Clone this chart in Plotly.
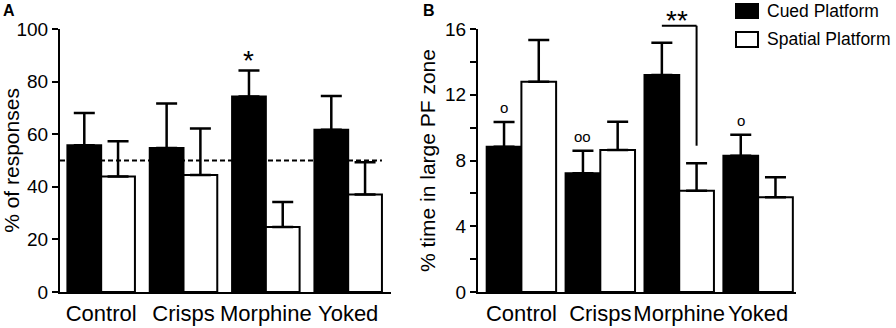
import plotly.graph_objects as go

# ---------------- data ----------------
CATEGORIES = ["Control", "Crisps", "Morphine", "Yoked"]

# Panel A: % of responses
A_CUED = [55.8, 54.8, 74.3, 61.7]
A_CUED_SEM = [12.3, 16.9, 9.9, 12.8]
A_SPATIAL = [43.9, 44.5, 24.7, 37.1]
A_SPATIAL_SEM = [13.4, 17.7, 9.5, 12.2]
CHANCE = 50

# Panel B: % time in large PF zone
B_CUED = [8.84, 7.22, 13.2, 8.29]
B_CUED_SEM = [1.5, 1.38, 1.97, 1.28]
B_SPATIAL = [12.79, 8.64, 6.16, 5.76]
B_SPATIAL_SEM = [2.54, 1.72, 1.67, 1.22]

A_TICKS = [0, 20, 40, 60, 80, 100]
B_TICKS = [0, 4, 8, 12, 16]

# significance marks
A_STAR_GROUP = 2
B_CIRCLES = ["o", "oo", "", "o"]
B_BRACKET_GROUP = 2
B_BRACKET_TOP = 16.2
B_BRACKET_BOTTOM = 8.9

# ---------------- style ----------------
FONT = "Liberation Sans, Arial, sans-serif"
W, H = 896, 328
WA = 0.41   # bar width panel A (category units)
WB = 0.44   # bar width panel B
XA_RANGE = [-0.5, 3.52]
XB_RANGE = [-0.55, 3.48]
YA_MAX = 100
YB_MAX = 16
Y_DOMAIN = [36 / H, 299 / H]
XA_DOMAIN = [60 / W, 391 / W]
XB_DOMAIN = [478 / W, 796 / W]

idx = list(range(len(CATEGORIES)))


def bars(vals, sems, width, offset, fill, xa, ya):
    return go.Bar(
        x=idx, y=vals, width=width, offset=offset,
        xaxis=xa, yaxis=ya, showlegend=False, hoverinfo="skip",
        marker=dict(color=fill, line=dict(color="black", width=2)),
        error_y=dict(type="data", array=sems, arrayminus=[0] * len(sems),
                     symmetric=False, color="black", thickness=2.5, width=10.5),
    )


fig = go.Figure()
fig.add_trace(bars(A_CUED, A_CUED_SEM, WA, -WA, "black", "x", "y"))
fig.add_trace(bars(A_SPATIAL, A_SPATIAL_SEM, WA, 0, "white", "x", "y"))
fig.add_trace(bars(B_CUED, B_CUED_SEM, WB, -WB, "black", "x2", "y2"))
fig.add_trace(bars(B_SPATIAL, B_SPATIAL_SEM, WB, 0, "white", "x2", "y2"))

xcommon = dict(
    tickmode="array", tickvals=idx, ticktext=CATEGORIES, tickangle=0,
    showline=True, linecolor="black", linewidth=2, mirror=False,
    ticks="outside", ticklen=1, tickcolor="rgba(0,0,0,0)",
    tickfont=dict(family=FONT, size=22, color="black"),
    showgrid=False, zeroline=False, fixedrange=True,
)
ycommon = dict(
    showline=True, linecolor="black", linewidth=2,
    ticks="outside", ticklen=6, tickwidth=2, tickcolor="black",
    tickfont=dict(family=FONT, size=19, color="black"),
    showgrid=False, zeroline=False, fixedrange=True,
)

fig.update_layout(
    width=W, height=H,
    margin=dict(l=0, r=0, t=0, b=0, pad=0, autoexpand=False),
    paper_bgcolor="white", plot_bgcolor="white",
    barmode="overlay",
    xaxis=dict(domain=XA_DOMAIN, range=XA_RANGE, anchor="y", **xcommon),
    yaxis=dict(domain=Y_DOMAIN, range=[0, YA_MAX], anchor="x",
               tickvals=A_TICKS,
               title=dict(text="% of responses", standoff=4,
                          font=dict(family=FONT, size=21, color="black")),
               **ycommon),
    xaxis2=dict(domain=XB_DOMAIN, range=XB_RANGE, anchor="y2", **xcommon),
    yaxis2=dict(domain=Y_DOMAIN, range=[0, YB_MAX], anchor="x2",
                tickvals=B_TICKS,
                minor=dict(dtick=2, ticks="outside", ticklen=6, tickwidth=2,
                           tickcolor="black"),
                title=dict(text="% time in large PF zone", standoff=4,
                           font=dict(family=FONT, size=21, color="black")),
                **ycommon),
    showlegend=False,
)

# chance line
fig.add_shape(type="line", xref="x", yref="y",
              x0=XA_RANGE[0], x1=idx[-1] + WA, y0=CHANCE, y1=CHANCE,
              line=dict(color="black", width=2, dash="5px,3px"))

# panel A star
fig.add_annotation(x=A_STAR_GROUP - WA / 2,
                   y=A_CUED[A_STAR_GROUP] + A_CUED_SEM[A_STAR_GROUP],
                   xref="x", yref="y", text="*", showarrow=False,
                   yanchor="bottom", yshift=-7,
                   font=dict(family=FONT, size=28, color="black"))

# panel B circles
for i, t in enumerate(B_CIRCLES):
    if t:
        fig.add_annotation(x=i - WB / 2, y=B_CUED[i] + B_CUED_SEM[i],
                           xref="x2", yref="y2", text=t, showarrow=False,
                           yanchor="bottom", yshift=4,
                           font=dict(family=FONT, size=15, color="black"))

# bracket
g = B_BRACKET_GROUP
fig.add_shape(type="line", xref="x2", yref="y2 domain",
              x0=g - WB / 2, x1=g + WB / 2,
              y0=B_BRACKET_TOP / YB_MAX, y1=B_BRACKET_TOP / YB_MAX,
              line=dict(color="black", width=2))
fig.add_shape(type="line", xref="x2", yref="y2 domain",
              x0=g + WB / 2, x1=g + WB / 2,
              y0=B_BRACKET_TOP / YB_MAX, y1=B_BRACKET_BOTTOM / YB_MAX,
              line=dict(color="black", width=2))
fig.add_annotation(x=g, y=B_BRACKET_TOP / YB_MAX, xref="x2", yref="y2 domain",
                   text="**", showarrow=False, yanchor="bottom",
                   xshift=-2, yshift=-12,
                   font=dict(family=FONT, size=28, color="black"))

# panel letters
fig.add_annotation(x=1 / W, y=1, xref="paper", yref="paper", text="<b>A</b>",
                   showarrow=False, xanchor="left", yanchor="top",
                   font=dict(family=FONT, size=16, color="black"))
fig.add_annotation(x=421 / W, y=1, xref="paper", yref="paper", text="<b>B</b>",
                   showarrow=False, xanchor="left", yanchor="top",
                   font=dict(family=FONT, size=16, color="black"))

# manual legend
LEGEND = [("Cued Platform", "black", 4, 18), ("Spatial Platform", "white", 32, 47)]
for name, fill, top, bot in LEGEND:
    fig.add_shape(type="rect", xref="paper", yref="paper",
                  x0=736 / W, x1=758 / W, y0=1 - bot / H, y1=1 - top / H,
                  fillcolor=fill, line=dict(color="black", width=2))
    fig.add_annotation(x=765 / W, y=1 - (top + bot) / 2 / H, xref="paper", yref="paper",
                       text=name, showarrow=False, xanchor="left", yanchor="middle",
                       font=dict(family=FONT, size=17.5, color="black"))

fig.write_html(
    "out.html",
    config={"displayModeBar": False, "staticPlot": True},
    post_script="document.body.style.margin='0px';document.body.style.overflow='hidden';",
)
